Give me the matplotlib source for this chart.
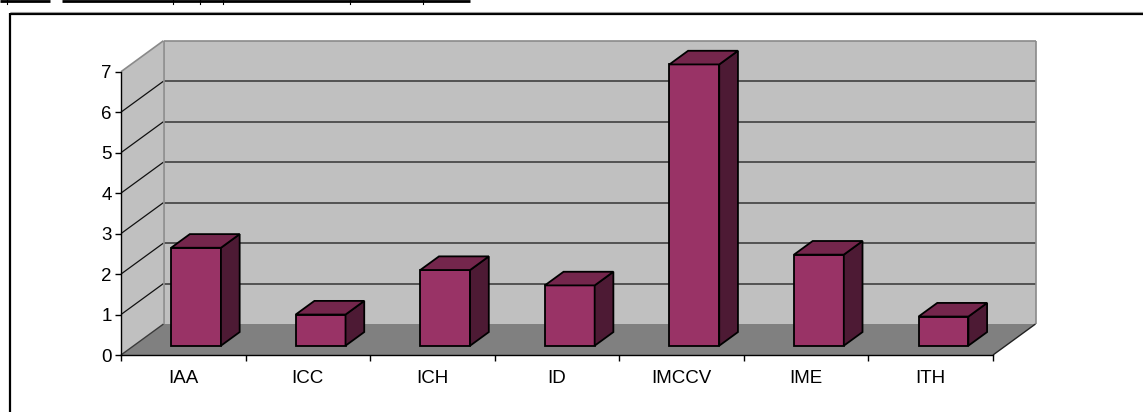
"""
3-D style column chart (Excel look) drawn with plain matplotlib polygons.
Output: out.png (1143x412)
"""

import matplotlib.pyplot as plt
from matplotlib.lines import Line2D
import numpy as np

plt.rcParams["font.family"] = ["Liberation Sans", "DejaVu Sans"]

# ── Data ─────────────────────────────────────────────────────────────────────
categories = ["IAA", "ICC", "ICH", "ID", "IMCCV", "IME", "ITH"]
values     = [2.42, 0.77, 1.87, 1.49, 6.95, 2.25, 0.72]
y_ticks    = [0, 1, 2, 3, 4, 5, 6, 7]

# ── Colours ──────────────────────────────────────────────────────────────────
C_FRONT = "#993366"
C_SIDE  = "#4d1a34"
C_TOP   = "#74264c"
C_WALL  = "#c0c0c0"
C_FLOOR = "#808080"
C_EDGE  = "#8a8a8a"

W, H = 1143, 412
fig = plt.figure(figsize=(W / 100, H / 100), dpi=100)
fig.patch.set_facecolor("white")


def fx(px):
    return px / W


def fy(py):
    return 1 - py / H


# front plane of the plot: x 121..993 px, value 0 at 355 px, 7 at 71.7 px
ax = fig.add_axes([fx(121), fy(355), fx(993) - fx(121), fy(71.7) - fy(355)])
n = len(categories)
ymax = max(y_ticks)
ax.set_xlim(0, n)
ax.set_ylim(0, ymax)
ax.patch.set_visible(False)

# oblique depth vector (data units) for depth = 1
DX = 42.5 / (872 / n)
DY = 31.0 / ((355 - 71.7) / ymax)


def proj(x, y, d):
    return x + d * DX, y + d * DY


def poly(pts, fc, ec="none", lw=0, z=1):
    xs, ys = zip(*[proj(*p) for p in pts])
    ax.fill(xs, ys, facecolor=fc, edgecolor=ec, linewidth=lw,
            zorder=z, clip_on=False, joinstyle="miter")


def seg(p0, p1, color, lw=1.0, z=2):
    a, b = proj(*p0), proj(*p1)
    ax.plot([a[0], b[0]], [a[1], b[1]], color=color, lw=lw,
            zorder=z, clip_on=False, solid_capstyle="butt")


# walls and floor
poly([(0, 0, 0), (0, ymax, 0), (0, ymax, 1), (0, 0, 1)], C_WALL)
poly([(0, 0, 1), (n, 0, 1), (n, ymax, 1), (0, ymax, 1)], C_WALL)
poly([(0, 0, 0), (n, 0, 0), (n, 0, 1), (0, 0, 1)], C_FLOOR)

# gridlines on back wall and left wall
for v in y_ticks[1:-1]:
    seg((0, v, 1), (n, v, 1), "#353535", 1.1)
    seg((0, v, 0), (0, v, 1), "#111111", 0.9)
seg((0, 0, 0), (0, 0, 1), "#3a3a3a", 1.0)

# wall outlines
seg((0, ymax, 0), (0, ymax, 1), C_EDGE, 1.2)
seg((0, ymax, 1), (n, ymax, 1), C_EDGE, 1.2)
seg((0, 0, 1), (0, ymax, 1), C_EDGE, 1.2)
seg((n, 0, 1), (n, ymax, 1), C_EDGE, 1.2)
seg((n, 0, 0), (n, 0, 1), "#222222", 1.0)

# bars
hw, d0, d1 = 0.2, 0.30, 0.74
for i, v in enumerate(values):
    x0, x1 = i + 0.5 - hw, i + 0.5 + hw
    kw = dict(ec="black", lw=1.3, z=5)
    poly([(x0, 0, d0), (x1, 0, d0), (x1, v, d0), (x0, v, d0)], C_FRONT, **kw)
    poly([(x1, 0, d0), (x1, 0, d1), (x1, v, d1), (x1, v, d0)], C_SIDE, **kw)
    poly([(x0, v, d0), (x1, v, d0), (x1, v, d1), (x0, v, d1)], C_TOP, **kw)

# axes: spines, ticks, labels
ax.spines[["top", "right"]].set_visible(False)
for s in ["left", "bottom"]:
    ax.spines[s].set_color("black")
    ax.spines[s].set_linewidth(1.0)
    ax.spines[s].set_zorder(3)

ax.set_yticks(y_ticks)
ax.set_yticklabels([str(t) for t in y_ticks])
ax.tick_params(axis="y", direction="out", length=4, width=1, pad=2.5,
               labelsize=13.5, colors="black")

ax.set_xticks(np.arange(n + 1))
ax.set_xticklabels([])
ax.set_xticks(np.arange(n) + 0.5, minor=True)
ax.set_xticklabels(categories, minor=True)
ax.tick_params(axis="x", which="major", direction="out", length=4, width=1)
ax.tick_params(axis="x", which="minor", length=0, pad=10.5, labelsize=13.5)

# ── Page decoration: outer frame and cut-off caption underline ──────────────
deco = [
    ((fx(10), fx(10)), (fy(13), fy(420)), "black", 1.6),
    ((fx(10), fx(1150)), (fy(14.3), fy(14.3)), "black", 1.6),
    ((fx(10), fx(1150)), (fy(12.3), fy(12.3)), "#9a9a9a", 0.8),
    ((fx(0), fx(50)), (fy(1.0), fy(1.0)), "black", 2.0),
    ((fx(62), fx(470)), (fy(1.0), fy(1.0)), "black", 2.0),
]
for xs, ys, c, lw in deco:
    fig.add_artist(Line2D(xs, ys, color=c, lw=lw, transform=fig.transFigure,
                          solid_capstyle="butt"))
for px in [7, 173, 200, 223, 350, 423]:
    fig.add_artist(Line2D((fx(px), fx(px)), (fy(0), fy(4)), color="black",
                          lw=0.8, transform=fig.transFigure))

fig.savefig("out.png", dpi=100, facecolor="white")
